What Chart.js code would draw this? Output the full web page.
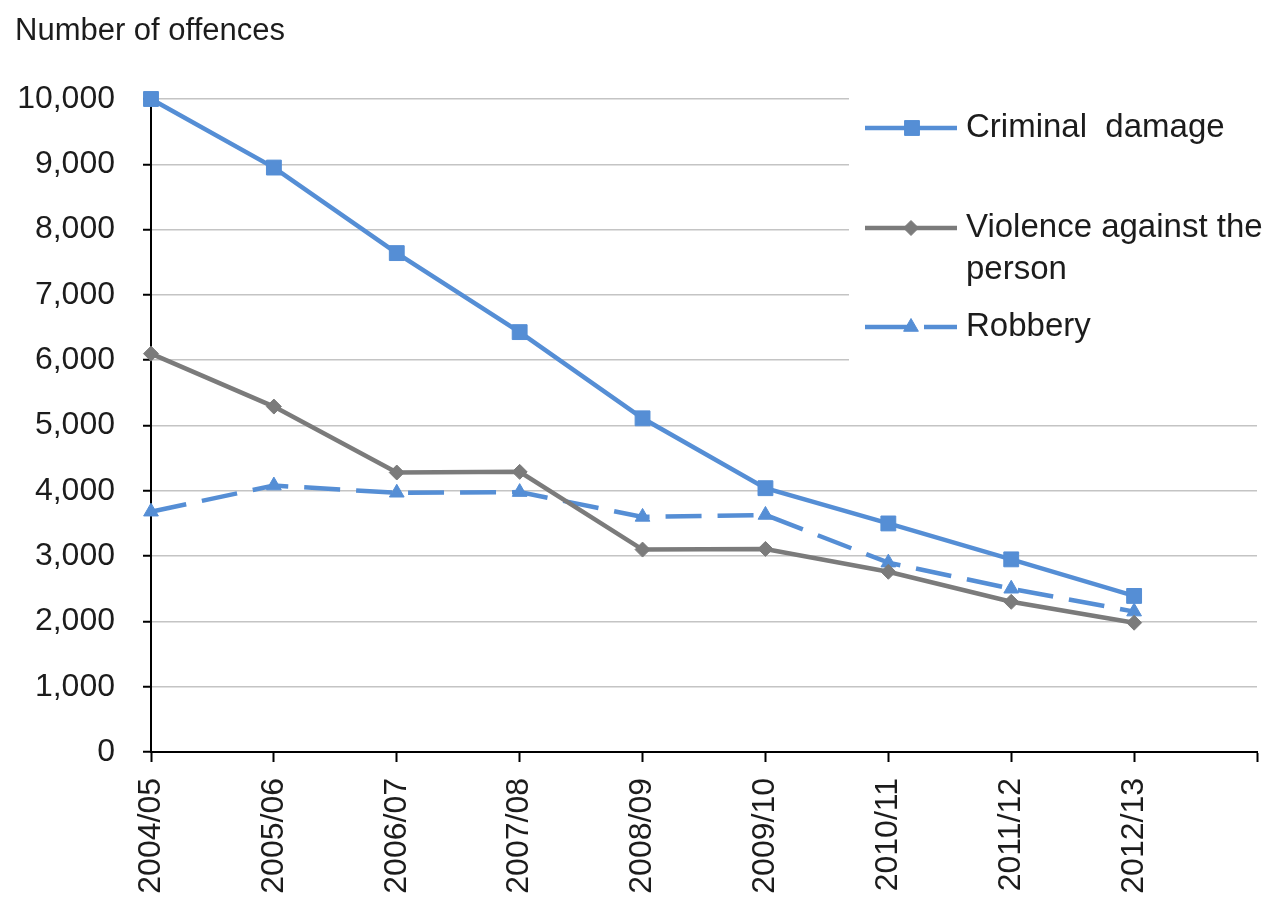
<!DOCTYPE html>
<html><head><meta charset="utf-8">
<script src="https://cdn.jsdelivr.net/npm/chart.js@4.4.0/dist/chart.umd.min.js"></script>
<style>html,body{margin:0;padding:0;background:#fff;overflow:hidden}#wrap{width:1286px;height:900px;position:relative}</style>
</head><body><div id="wrap"><canvas id="c" width="1286" height="900"></canvas></div>
<script>
const categories = ['2004/05','2005/06','2006/07','2007/08','2008/09','2009/10','2010/11','2011/12','2012/13'];
const criminalDamage = [10000, 8950, 7640, 6430, 5110, 4040, 3500, 2950, 2390];
const violence = [6100, 5290, 4280, 4290, 3100, 3110, 2760, 2300, 1980];
const robbery = [3680, 4080, 3970, 3980, 3600, 3630, 2900, 2500, 2150];
const yTickValues = [0, 1000, 2000, 3000, 4000, 5000, 6000, 7000, 8000, 9000, 10000];
const seriesNames = ['Criminal  damage', ['Violence against the', 'person'], 'Robbery'];
const yTitle = 'Number of offences';

const BLUE = '#558ed5';
const GRAY = '#7b7b7b';
const TEXT = '#1c1c1c';
const FONT = '"Liberation Sans", Arial, sans-serif';

function drawMarker(ctx, style, r, x, y, color) {
  ctx.save();
  ctx.fillStyle = color; ctx.strokeStyle = color; ctx.lineWidth = 1;
  if (Chart.helpers && Chart.helpers.drawPoint) {
    Chart.helpers.drawPoint(ctx, {pointStyle: style, radius: r, borderWidth: 1, rotation: 0}, x, y);
  }
  ctx.restore();
}

const overlay = {
  id: 'overlay',
  afterDraw(chart) {
    const ctx = chart.ctx;
    ctx.save();
    ctx.font = '31px ' + FONT;
    ctx.fillStyle = TEXT;
    ctx.textBaseline = 'alphabetic';
    ctx.textAlign = 'left';
    ctx.fillText(yTitle, 15, 40);
    ctx.fillStyle = '#fff';
    ctx.fillRect(849, 86, 437, 286);
    ctx.lineWidth = 4.5;
    ctx.strokeStyle = BLUE;
    ctx.beginPath(); ctx.moveTo(865, 128); ctx.lineTo(957, 128); ctx.stroke();
    drawMarker(ctx, 'rect', 10.5, 912, 128, BLUE);
    ctx.strokeStyle = GRAY;
    ctx.beginPath(); ctx.moveTo(865, 228); ctx.lineTo(957, 228); ctx.stroke();
    drawMarker(ctx, 'rectRot', 7.5, 911, 228, GRAY);
    ctx.strokeStyle = BLUE;
    ctx.beginPath(); ctx.moveTo(865, 327); ctx.lineTo(911, 327); ctx.moveTo(924, 327); ctx.lineTo(957, 327); ctx.stroke();
    drawMarker(ctx, 'triangle', 8.5, 911, 327, BLUE);
    ctx.font = '33px ' + FONT;
    ctx.fillStyle = TEXT;
    ctx.textBaseline = 'middle';
    ctx.fillText(seriesNames[0], 966, 128);
    ctx.fillText(seriesNames[1][0], 966, 228);
    ctx.fillText(seriesNames[1][1], 966, 270);
    ctx.fillText(seriesNames[2], 966, 327);
    ctx.restore();
  }
};

new Chart(document.getElementById('c'), {
  type: 'line',
  data: {
    labels: [...categories, ''],
    datasets: [
      {label: 'Criminal damage', data: criminalDamage, borderColor: BLUE, backgroundColor: BLUE,
       borderWidth: 4.5, pointStyle: 'rect', pointRadius: 10.5, pointBorderWidth: 1, tension: 0, clip: false},
      {label: 'Violence against the person', data: violence, borderColor: GRAY, backgroundColor: GRAY,
       borderWidth: 4.5, pointStyle: 'rectRot', pointRadius: 7.5, pointBorderWidth: 1, tension: 0, clip: false},
      {label: 'Robbery', data: robbery, borderColor: BLUE, backgroundColor: BLUE,
       borderWidth: 4.5, borderDash: [36, 16], pointStyle: 'triangle', pointRadius: 8.5, pointBorderWidth: 1, tension: 0, clip: false}
    ]
  },
  options: {
    responsive: false,
    animation: false,
    devicePixelRatio: 1,
    layout: {padding: {top: 99, right: 29, left: 0, bottom: 0}},
    plugins: {legend: {display: false}, tooltip: {enabled: false}, title: {display: false}},
    scales: {
      x: {
        type: 'category',
        offset: false,
        grid: {drawOnChartArea: false, drawTicks: true, tickLength: 10, tickColor: '#000', tickWidth: 2},
        border: {color: '#000', width: 2},
        ticks: {autoSkip: false, maxRotation: 90, minRotation: 90, padding: 16, color: TEXT,
                font: {family: FONT, size: 32}},
        afterFit(s) { s.height = 148; s.paddingRight = 0; s.paddingLeft = 0; }
      },
      y: {
        min: 0, max: 10000,
        afterBuildTicks(s) { s.ticks = yTickValues.map(v => ({value: v})); },
        grid: {color: '#c4c4c4', lineWidth: 1.5, drawTicks: true, tickLength: 8, tickColor: '#000', tickWidth: 2},
        border: {color: '#000', width: 2},
        ticks: {padding: 28, color: TEXT, font: {family: FONT, size: 32},
                callback: v => Number(v).toLocaleString('en-US')},
        afterFit(s) { s.width = 151; }
      }
    }
  },
  plugins: [overlay]
});
</script></body></html>
